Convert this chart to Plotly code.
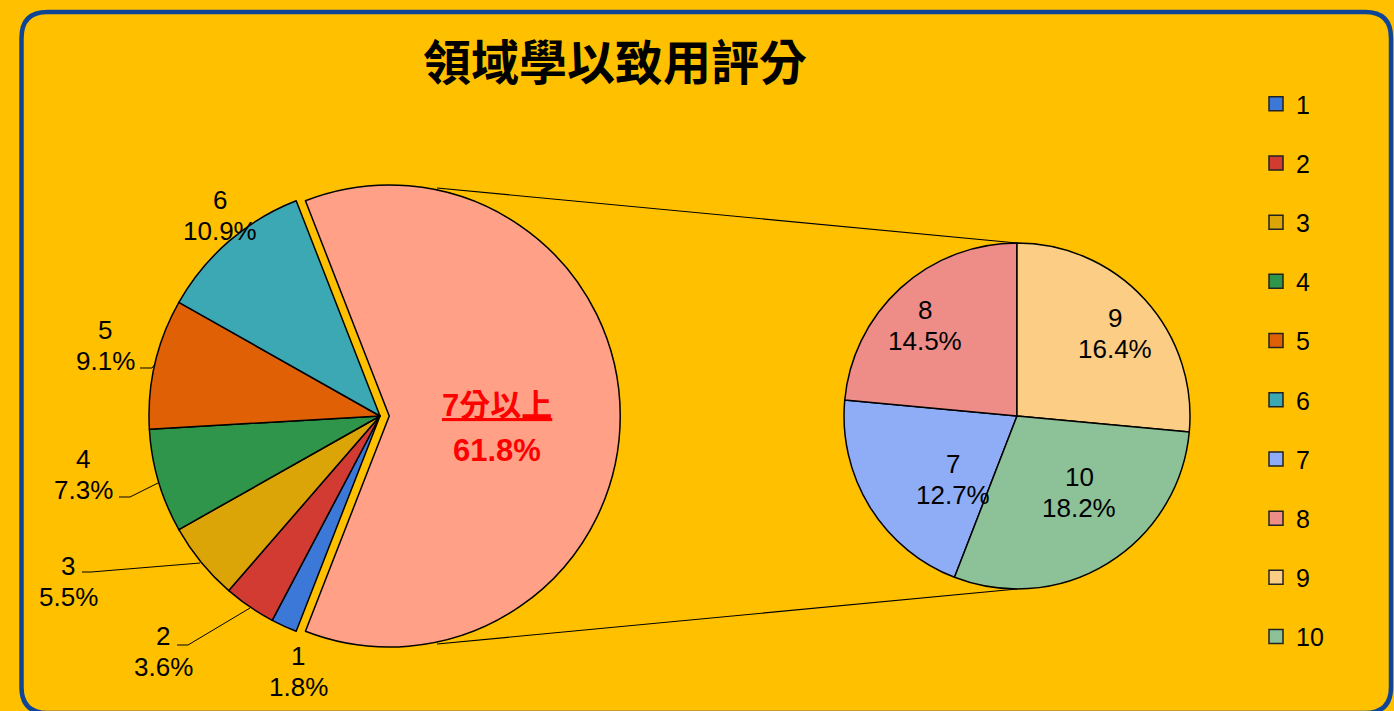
import plotly.graph_objects as go

W, H = 1394, 711

# Ratings 1-10 and number of responses for each
scores = ["1", "2", "3", "4", "5", "6", "7", "8", "9", "10"]
counts = [1, 2, 3, 4, 5, 6, 7, 8, 9, 10]
colors = ["#3C78D8", "#D13B32", "#DBA507", "#2E954B", "#E06005",
          "#3CA8B3", "#8FADF7", "#EE8C88", "#FCCD84", "#8DC198"]
group_label = "7分以上"
group_color = "#FFA087"
title_text = "領域學以致用評分"

total = sum(counts)
split = 6  # ratings 7+ are combined in the main pie and broken out on the right

main_labels = [group_label] + scores[:split]
main_values = [sum(counts[split:])] + counts[:split]
main_colors = [group_color] + colors[:split]

detail_labels = scores[split:]
detail_values = counts[split:]
detail_colors = colors[split:]


def pct(v):
    return f"{v / total * 100:.1f}%"


def px_x(x):
    return x / W


def px_y(y):
    return 1 - y / H


fig = go.Figure()

# main pie, combined slice pulled out to the right
pull = 0.04
main_r, main_cx, main_cy = 231, 380, 416
half = main_r * (1 + pull)
group_angle = 360 * main_values[0] / total
fig.add_trace(go.Pie(
    labels=main_labels, values=main_values, sort=False, direction="clockwise",
    rotation=90 - group_angle / 2,
    pull=[pull] + [0] * split,
    marker=dict(colors=main_colors, line=dict(color="#000000", width=1.5)),
    textinfo="none", hoverinfo="label+percent", showlegend=False,
    domain=dict(x=[px_x(main_cx - half), px_x(main_cx + half)],
                y=[px_y(main_cy + half), px_y(main_cy - half)]),
))

# breakdown pie of ratings 7-10
det_r, det_cx, det_cy = 173, 1017, 416
det_total = sum(detail_values)
fig.add_trace(go.Pie(
    labels=detail_labels, values=detail_values, sort=False, direction="clockwise",
    rotation=360 * (detail_values[2] + detail_values[3]) / det_total,
    marker=dict(colors=detail_colors, line=dict(color="#000000", width=1.5)),
    textinfo="none", hoverinfo="label+value", showlegend=False,
    domain=dict(x=[px_x(det_cx - det_r), px_x(det_cx + det_r)],
                y=[px_y(det_cy + det_r), px_y(det_cy - det_r)]),
))

# legend entries for all ten ratings
for s, c in zip(scores, colors):
    fig.add_trace(go.Scatter(
        x=[None], y=[None], mode="markers", name=s, legendgroup=s,
        marker=dict(symbol="square", size=14, color=c,
                    line=dict(color="#222222", width=1.5)),
        hoverinfo="skip", showlegend=True,
    ))

label_font = dict(family="Liberation Sans, Arial, sans-serif", size=26, color="#000000")

# data labels around the main pie and inside the breakdown pie (centre of the two lines)
label_pos = {
    "6": (220, 215), "5": (105, 345), "4": (83, 474), "3": (68, 581),
    "2": (163, 651), "1": (298, 671),
    "7": (953, 479), "8": (925, 325), "9": (1115, 333), "10": (1079, 492),
}
line_gap = 31
annotations = []
for s, v in zip(scores, counts):
    x, y = label_pos[s]
    for txt, dy in ((s, -line_gap / 2), (pct(v), line_gap / 2)):
        annotations.append(dict(
            x=x, y=y + dy, xref="x", yref="y", text=txt, showarrow=False,
            xanchor="center", yanchor="middle", font=label_font,
        ))

big_font = dict(family="Liberation Sans, Noto Sans CJK TC, sans-serif", size=31,
                color="#FF0000", weight="bold")
annotations.append(dict(x=497, y=405, xref="x", yref="y", text=f"<u>{group_label}</u>",
                        showarrow=False, xanchor="center", yanchor="middle", font=big_font))
annotations.append(dict(x=497, y=450, xref="x", yref="y", text=pct(main_values[0]),
                        showarrow=False, xanchor="center", yanchor="middle", font=big_font))

annotations.append(dict(
    x=615, y=59, xref="x", yref="y", text=title_text, showarrow=False,
    xanchor="center", yanchor="middle",
    font=dict(family="Noto Sans CJK TC, sans-serif", size=48, color="#000000", weight="bold"),
))

shapes = []
# outer rounded frame
x0, y0, x1, y1, rr = 21.5, 12, 1391, 713, 26
frame = (f"M {x0 + rr},{y0} H {x1 - rr} Q {x1},{y0} {x1},{y0 + rr} V {y1 - rr} "
         f"Q {x1},{y1} {x1 - rr},{y1} H {x0 + rr} Q {x0},{y1} {x0},{y1 - rr} "
         f"V {y0 + rr} Q {x0},{y0} {x0 + rr},{y0} Z")
shapes.append(dict(type="path", path=frame, xref="x", yref="y",
                   line=dict(color="#0E4595", width=4.5), layer="below"))

# connector lines between the pulled slice and the breakdown pie
line_style = dict(color="#000000", width=1.2)
shapes.append(dict(type="line", x0=437, y0=188, x1=det_cx, y1=det_cy - det_r,
                   xref="x", yref="y", line=line_style))
shapes.append(dict(type="line", x0=437, y0=644, x1=det_cx, y1=det_cy + det_r,
                   xref="x", yref="y", line=line_style))

# leader lines for the outside labels
leaders = [
    [(140, 368), (152, 368), (155, 364)],
    [(119, 497), (130, 497), (158, 483)],
    [(82, 572), (91, 572), (200, 563)],
    [(177, 645), (188, 645), (250, 608)],
]
for pts in leaders:
    path = "M " + " L ".join(f"{a},{b}" for a, b in pts)
    shapes.append(dict(type="path", path=path, xref="x", yref="y",
                       line=dict(color="#000000", width=1)))

fig.update_layout(
    width=W, height=H,
    margin=dict(l=0, r=0, t=0, b=0),
    paper_bgcolor="#FFC000", plot_bgcolor="rgba(0,0,0,0)",
    xaxis=dict(range=[0, W], visible=False, fixedrange=True, domain=[0, 1]),
    yaxis=dict(range=[H, 0], visible=False, fixedrange=True, domain=[0, 1]),
    showlegend=True,
    legend=dict(x=px_x(1256), y=px_y(81), xanchor="left", yanchor="top",
                bgcolor="rgba(0,0,0,0)", tracegroupgap=23.7,
                itemwidth=30,
                font=dict(family="Liberation Sans, Arial, sans-serif", size=25, color="#000000")),
    annotations=annotations,
    shapes=shapes,
)

fig.write_html("out.html")
